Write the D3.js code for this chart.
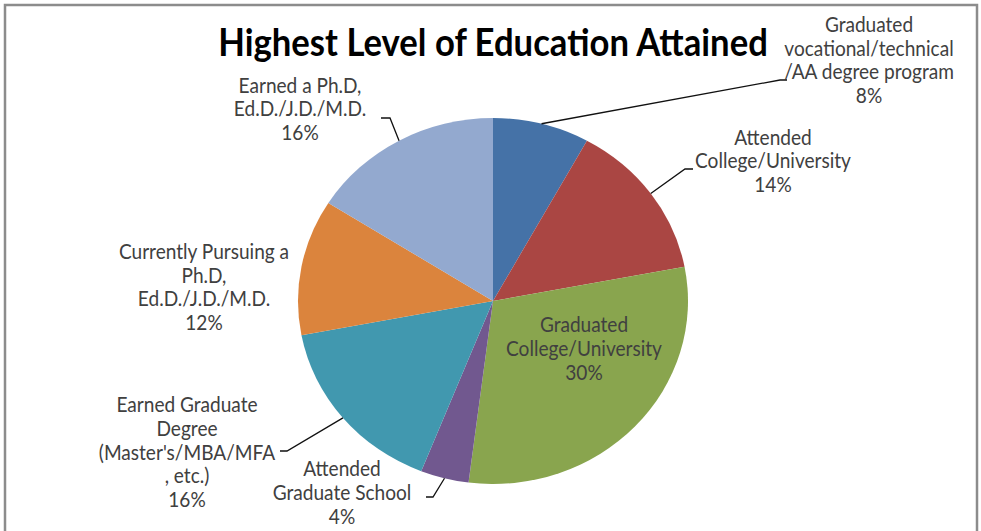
<!DOCTYPE html>
<html>
<head>
<meta charset="utf-8">
<script src="https://cdn.jsdelivr.net/npm/d3@7"></script>
<style>
  html, body { margin: 0; padding: 0; background: #fff; }
  svg { display: block; }
</style>
</head>
<body>
<svg id="chart" width="981" height="531"></svg>
<script>
// ---- data ----
const title = "Highest Level of Education Attained";
const categories = [
  "Graduated vocational/technical /AA degree program",
  "Attended College/University",
  "Graduated College/University",
  "Attended Graduate School",
  "Earned Graduate Degree (Master's/MBA/MFA , etc.)",
  "Currently Pursuing a Ph.D, Ed.D./J.D./M.D.",
  "Earned a Ph.D, Ed.D./J.D./M.D."
];
const values = [8, 14, 30, 4, 16, 12, 16];
const labelLines = [
  ["Graduated", "vocational/technical", "/AA degree program"],
  ["Attended", "College/University"],
  ["Graduated", "College/University"],
  ["Attended", "Graduate School"],
  ["Earned Graduate", "Degree", "(Master's/MBA/MFA", ", etc.)"],
  ["Currently Pursuing a", "Ph.D,", "Ed.D./J.D./M.D."],
  ["Earned a Ph.D,", "Ed.D./J.D./M.D."]
];
const colors = ["#4572A7", "#AA4643", "#89A54E", "#71588F", "#4198AF", "#DB843D", "#93A9CF"];

// ---- layout ----
const W = 981, H = 531;
const cx = 493, cy = 301, rx = 195, ry = 183;
const labelLayout = [
  { x: 869, y: 32,  lh: 23.6, leader: { ang: 14.4,  elbow: [780, 80],  end: [787, 80] } },
  { x: 773, y: 145, lh: 23.5, leader: { ang: 54,    elbow: [685, 169], end: [693, 169] } },
  { x: 584, y: 332, lh: 24,   leader: null },
  { x: 342, y: 476, lh: 24,   leader: { ang: 194.4, elbow: [433, 497], end: [426, 497] } },
  { x: 187, y: 412, lh: 23.8, leader: { ang: 230.3, elbow: [287, 451], end: [280, 451] } },
  { x: 204, y: 259, lh: 23.6, leader: null },
  { x: 300, y: 93,  lh: 23.5, leader: { ang: 331.2, elbow: [390, 118], end: [381, 118] } }
];

const svg = d3.select("#chart");
svg.append("rect").attr("width", W).attr("height", H).attr("fill", "#fff");

// frame
svg.append("rect")
  .attr("x", 5).attr("y", 5).attr("width", 972).attr("height", 560)
  .attr("fill", "#fff").attr("stroke", "#8c8c8c").attr("stroke-width", 2.5);

// pie
const pie = d3.pie().sort(null).value(d => d)(values);
const arc = d3.arc().innerRadius(0).outerRadius(ry);
const g = svg.append("g").attr("transform", `translate(${cx},${cy}) scale(${rx / ry},1)`);
g.selectAll("path").data(pie).join("path")
  .attr("d", arc)
  .attr("fill", (d, i) => colors[i]);

// helpers
const fontFamily = "Lato, 'Open Sans', sans-serif";
function fitSize(text, weight, targetWidth) {
  const t = svg.append("text").attr("font-family", fontFamily).attr("font-weight", weight)
    .attr("font-size", 100).text(text);
  const w = t.node().getComputedTextLength();
  t.remove();
  return 100 * targetWidth / w;
}

// title (slightly condensed to mimic the narrow original face)
const titleSX = 0.92;
const titleSize = fitSize(title, 700, 550 / titleSX);
svg.append("g").attr("transform", `translate(493,56) scale(${titleSX},1)`)
  .append("text")
  .attr("x", 0).attr("y", 0)
  .attr("text-anchor", "middle")
  .attr("font-family", fontFamily).attr("font-weight", 700)
  .attr("font-size", titleSize).attr("fill", "#000")
  .text(title);

// labels
const labelSX = 0.9;
const labelSize = fitSize("College/University", 400, 156 / labelSX);
const pct = d3.format(".0f");
pie.forEach((d, i) => {
  const L = labelLayout[i];
  const lines = labelLines[i].concat([pct(values[i]) + "%"]);
  const t = svg.append("g").attr("transform", `translate(${L.x},0) scale(${labelSX},1)`)
    .append("text")
    .attr("text-anchor", "middle")
    .attr("font-family", fontFamily)
    .attr("font-size", labelSize)
    .attr("fill", "#404040");
  lines.forEach((s, k) => {
    t.append("tspan").attr("x", 0).attr("y", L.y + k * L.lh).text(s);
  });
  if (L.leader) {
    const a = L.leader.ang * Math.PI / 180;
    const p0 = [cx + rx * Math.sin(a), cy - ry * Math.cos(a)];
    svg.append("polyline")
      .attr("points", [p0, L.leader.elbow, L.leader.end].map(p => p.join(",")).join(" "))
      .attr("fill", "none").attr("stroke", "#111").attr("stroke-width", 1.3);
  }
});
</script>
</body>
</html>
